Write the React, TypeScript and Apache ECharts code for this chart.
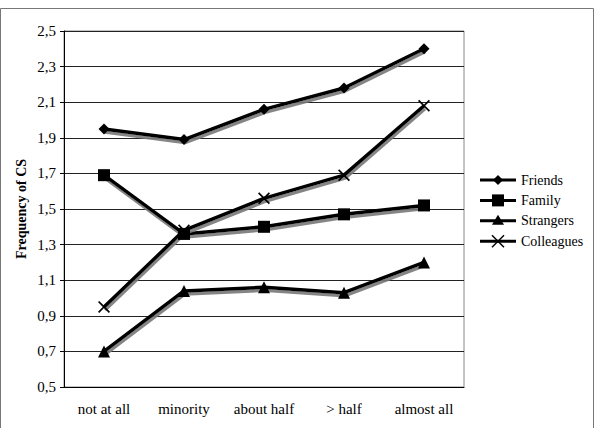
import React, { useEffect, useRef } from "react";
import * as echarts from "echarts";

const categories = ["not at all", "minority", "about half", "> half", "almost all"];
const friends = [1.95, 1.89, 2.06, 2.18, 2.4];
const family = [1.69, 1.36, 1.4, 1.47, 1.52];
const strangers = [0.7, 1.04, 1.06, 1.03, 1.2];
const colleagues = [0.95, 1.38, 1.56, 1.69, 2.08];
const legendNames = ["Friends", "Family", "Strangers", "Colleagues"];

const FONT = "Liberation Serif";
const CROSS = "path://M0,1L1,0L5,4L9,0L10,1L6,5L10,9L9,10L5,6L1,10L0,9L4,5Z";

// legend layout
const LX0 = 480;
const LX1 = 516;
const LY0 = 180;
const LDY = 20.4;

export default function App() {
  const ref = useRef<HTMLDivElement>(null);
  useEffect(() => {
    if (!ref.current) return;
    const chart = echarts.init(ref.current, undefined, { renderer: "svg" });
    const mk = (name: string, data: number[], symbol: string, size: number) => ({
      name,
      type: "line",
      data,
      symbol,
      symbolSize: size,
      showAllSymbol: true,
      lineStyle: {
        color: "#000",
        width: 3.5,
        shadowColor: "rgba(120,120,120,0.9)",
        shadowOffsetX: 1,
        shadowOffsetY: 3,
        shadowBlur: 0,
      },
      itemStyle: { color: "#000" },
      emphasis: { disabled: true },
    });

    const cx = (LX0 + LX1) / 2;
    const legendMarker = (i: number, y: number): any[] => {
      if (i === 0)
        return [{ type: "polygon", shape: { points: [[cx, y - 5], [cx + 5, y], [cx, y + 5], [cx - 5, y]] }, style: { fill: "#000" } }];
      if (i === 1)
        return [{ type: "rect", shape: { x: cx - 6, y: y - 6, width: 12, height: 12 }, style: { fill: "#000" } }];
      if (i === 2)
        return [{ type: "polygon", shape: { points: [[cx, y - 6], [cx + 6, y + 4], [cx - 6, y + 4]] }, style: { fill: "#000" } }];
      return [
        { type: "line", shape: { x1: cx - 6, y1: y - 6, x2: cx + 6, y2: y + 6 }, style: { stroke: "#000", lineWidth: 1.5 } },
        { type: "line", shape: { x1: cx + 6, y1: y - 6, x2: cx - 6, y2: y + 6 }, style: { stroke: "#000", lineWidth: 1.5 } },
      ];
    };
    const legendGraphics: any[] = [];
    legendNames.forEach((n, i) => {
      const y = LY0 + i * LDY;
      legendGraphics.push({
        type: "line",
        shape: { x1: LX0, y1: y, x2: LX1, y2: y },
        style: { stroke: "#000", lineWidth: 3 },
        silent: true,
      });
      legendMarker(i, y).forEach((g) => legendGraphics.push({ ...g, silent: true }));
      legendGraphics.push({
        type: "text",
        x: 521,
        y: y,
        silent: true,
        style: {
          text: n,
          font: "normal 14px 'Liberation Serif', serif",
          fontFamily: "'Liberation Serif', serif",
          fontSize: 14,
          fill: "#000",
          verticalAlign: "middle",
          align: "left",
        },
      });
    });

    chart.setOption({
      animation: false,
      textStyle: { fontFamily: FONT },
      graphic: [
        {
          type: "rect",
          shape: { x: 0.5, y: 8.5, width: 593, height: 430 },
          style: { fill: "none", stroke: "#777", lineWidth: 1 },
          silent: true,
        },
        ...legendGraphics,
      ],
      grid: { left: 64, top: 31, width: 400, height: 356, show: true, borderColor: "#888", borderWidth: 1 },
      legend: { show: false, data: legendNames },
      xAxis: {
        type: "category",
        data: categories,
        boundaryGap: true,
        axisLine: { lineStyle: { color: "#000", width: 1 } },
        axisTick: { length: 5, lineStyle: { color: "#000" } },
        axisLabel: { fontFamily: FONT, fontSize: 15, color: "#000", margin: 14 },
      },
      yAxis: {
        type: "value",
        min: 0.5,
        max: 2.5,
        interval: 0.2,
        name: "Frequency of CS",
        nameLocation: "middle",
        nameGap: 36,
        nameMoveOverlap: false,
        nameTextStyle: { fontFamily: FONT, fontSize: 14, fontWeight: "bold", color: "#000" },
        axisLine: { show: true, lineStyle: { color: "#000" } },
        axisTick: { show: true, length: 4, lineStyle: { color: "#000" } },
        axisLabel: {
          fontFamily: FONT,
          fontSize: 15,
          color: "#000",
          margin: 8,
          formatter: (v: number) => v.toFixed(1).replace(".", ","),
        },
        splitLine: { lineStyle: { color: "#222", width: 1 } },
      },
      series: [
        mk("Friends", friends, "diamond", 11),
        mk("Family", family, "rect", 12),
        mk("Strangers", strangers, "triangle", 12),
        mk("Colleagues", colleagues, CROSS, 12),
      ],
    });
    return () => chart.dispose();
  }, []);
  return (
    <div
      ref={ref}
      style={{ position: "absolute", left: 0, top: 0, width: 596, height: 428 }}
    />
  );
}
